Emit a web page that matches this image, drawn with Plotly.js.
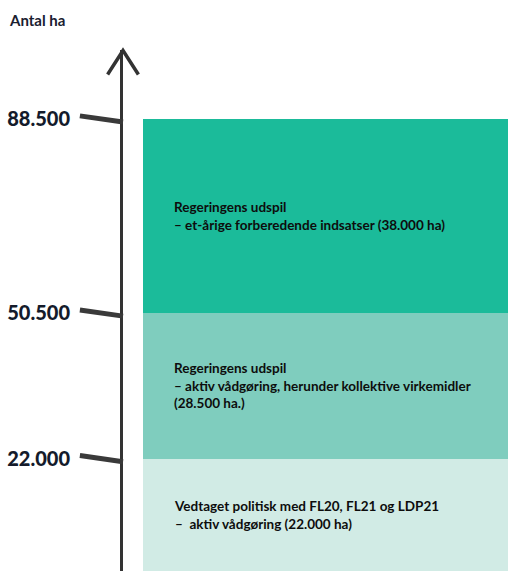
<!DOCTYPE html>
<html>
<head>
<meta charset="utf-8">
<script src="https://cdn.plot.ly/plotly-3.0.1.min.js"></script>
<style>html,body{margin:0;padding:0;background:#fff;}#chart{width:508px;height:571px;}</style>
</head>
<body>
<div id="chart"></div>
<script>
// Data
const segmentNames = ["Vedtaget", "Regeringens udspil (aktiv)", "Regeringens udspil (et-årige)"];
const segmentValues = [22000, 28500, 38000];
const segmentLabels = [
  "Vedtaget politisk med FL20, FL21 og LDP21<br>–  aktiv vådgøring (22.000 ha)",
  "Regeringens udspil<br>– aktiv vådgøring, herunder kollektive virkemidler<br>(28.500 ha.)",
  "Regeringens udspil<br>– et-årige forberedende indsatser (38.000 ha)"
];
const segmentColors = ["#D1EBE5", "#7FCDBE", "#1BBB9A"];
const tickValues = [22000, 50500, 88500];
const tickLabels = ["22.000", "50.500", "88.500"];

const font = "Lato";
const traces = segmentValues.map((v, i) => ({
  type: "bar",
  x: [0.526],
  y: [v],
  width: [0.948],
  name: segmentNames[i],
  marker: {color: segmentColors[i], line: {width: 0}},
  hoverinfo: "skip"
}));

const annotations = [];
let base = 0;
segmentValues.forEach((v, i) => {
  annotations.push({
    xref: "paper", yref: "y",
    x: 0.127, y: base + v / 2,
    xanchor: "left", yanchor: "middle", align: "left",
    text: segmentLabels[i],
    showarrow: false,
    font: {family: font, size: 13.5, color: "#0d0d0d", weight: 700}
  });
  base += v;
});

const shapes = [];
// arrow head
shapes.push({
  type: "path", xref: "paper", yref: "paper",
  path: "M -0.04 0.953 L 0 0.999 L 0.04 0.953",
  line: {color: "#333333", width: 3.5}
});
// hand-drawn ticks
tickValues.forEach(v => {
  shapes.push({
    type: "line", xref: "paper", yref: "y",
    x0: -0.112, x1: 0, y0: v + 600, y1: v - 600,
    line: {color: "#3a3a3a", width: 5}
  });
});

const layout = {
  width: 508, height: 571,
  margin: {l: 123, r: 0, t: 50, b: 0},
  paper_bgcolor: "#ffffff", plot_bgcolor: "#ffffff",
  barmode: "stack",
  showlegend: false,
  title: {
    text: "Antal ha",
    xref: "container", yref: "container",
    x: 10 / 508, xanchor: "left",
    y: 1 - 21 / 571, yanchor: "middle",
    font: {family: font, size: 15, color: "#1a2030", weight: 700}
  },
  xaxis: {
    range: [0, 1], showgrid: false, zeroline: false, showline: false,
    showticklabels: false, fixedrange: true
  },
  yaxis: {
    range: [0, 102000], showgrid: false, zeroline: false,
    showline: true, linecolor: "#333333", linewidth: 3,
    tickmode: "array", tickvals: tickValues, ticktext: tickLabels,
    ticks: "outside", ticklen: 46, tickcolor: "rgba(0,0,0,0)",
    tickfont: {family: font, size: 20, color: "#141b2b", weight: 900},
    fixedrange: true
  },
  shapes: shapes,
  annotations: annotations
};

Plotly.newPlot("chart", traces, layout, {displayModeBar: false, staticPlot: true});
</script>
</body>
</html>
